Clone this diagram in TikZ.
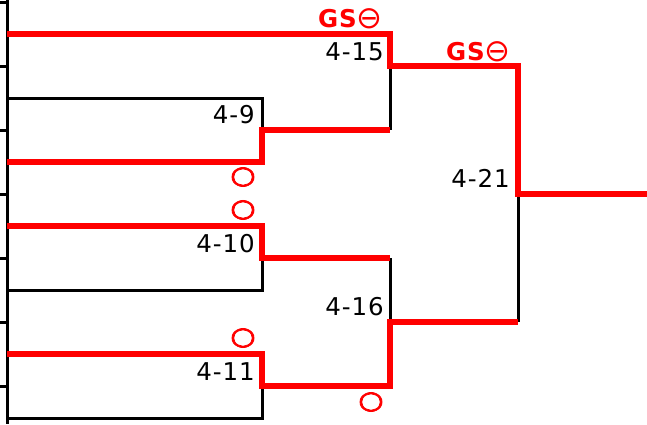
\documentclass[tikz,border=0pt]{standalone}
\usepackage{fontspec}
\setmainfont[LetterSpace=4]{DejaVu Sans}
\usepackage{tikz}
\usetikzlibrary{positioning}
\usetikzlibrary{calc}
\newcommand{\gsmark}{{\bfseries GS}{\fontsize{31}{31}\selectfont\addfontfeature{LetterSpace=0}\raisebox{-1.5pt}{⊖}}}
\tikzset{lose/.style={black,line width=3pt},
  won/.style={red,line width=6.5pt,line join=miter},
  lbl/.style={anchor=base east,inner sep=0pt},
  gs/.style={lbl,text=red},
  okmark/.style={text=red,inner sep=0pt,xscale=1.15,
    font=\fontsize{25}{25}\selectfont\addfontfeature{FakeBold=3}}}

\begin{document}
\begin{tikzpicture}[x=1pt, y=-1pt, font=\fontsize{24.5}{24.5}\selectfont]
\useasboundingbox (0,0) rectangle (647,424);

\coordinate (top) at (7,0);
\coordinate (bot) at (7,424);
\coordinate (e1) at (7,34);
\coordinate (e2) at (7,98);
\coordinate (e3) at (7,162);
\coordinate (e4) at (7,226);
\coordinate (e5) at (7,290);
\coordinate (e6) at (7,354);
\coordinate (e7) at (7,418);
\coordinate (m9) at (262,130);
\coordinate (m10) at (262,258);
\coordinate (m11) at (262,386);
\coordinate (m15) at (390,66);
\coordinate (m16) at (390,322);
\coordinate (m21) at (518,194);
\coordinate (champ) at (647,194);

\draw[lose] (top) -- (bot);
\foreach \t in {2,66,130,194,258,322,386}
  \draw[lose] (0,\t) -- (7,\t);

\draw[lose] (e2) -| (m9);
\draw[lose] (e5) -| (m10);
\draw[lose] (e7) -| (m11);
\draw[lose] (m9 -| m15) -- (m15);
\draw[lose] (m10 -| m16) -- (m16);
\draw[lose] (m16 -| m21) -- (m21);

\draw[won] (e1) -| (m15) -| (m21) -- (champ);
\draw[won] (e3) -| (m9) -- (m9 -| m15);
\draw[won] (e4) -| (m10) -- (m10 -| m16);
\draw[won] (e6) -| (m11) -| (m16) -- (m16 -| m21);

\node (l9) [lbl] at (255,123) {4-9};
\node (l10) [lbl] at (255,252) {4-10};
\node (l11) [lbl] at (255,380) {4-11};
\node (l15) [lbl] at (384,60) {4-15};
\node (l16) [lbl] at (384,315) {4-16};
\node (l21) [lbl] at (510,187) {4-21};

\node (gs15) [gs] at (383,27) {\gsmark};
\node (gs21) [gs] at (511,60) {\gsmark};

\node (ok3) [okmark] at (243,177) {○};
\node (ok4) [okmark] at (243,210) {○};
\node (ok6) [okmark] at (243,338) {○};
\node (ok11) [okmark] at (371,402) {○};
\end{tikzpicture}
\end{document}
